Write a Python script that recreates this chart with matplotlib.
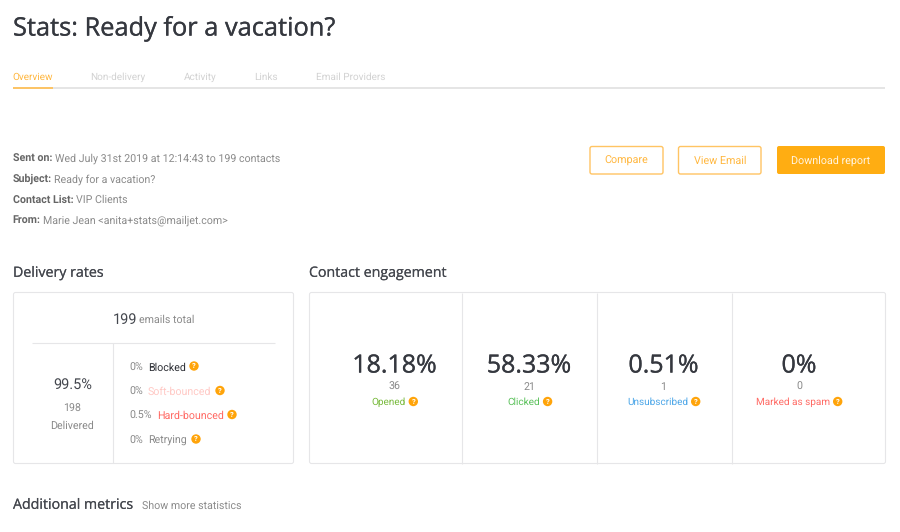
import matplotlib
matplotlib.use("Agg")
import matplotlib.pyplot as plt
import matplotlib.patheffects as pe
from matplotlib.patches import Circle, FancyBboxPatch

plt.rcParams["text.hinting"] = "no_hinting"
plt.rcParams["text.hinting_factor"] = 8

# ---- content ----
title = "Stats: Ready for a vacation?"
tabs = ["Overview", "Non-delivery", "Activity", "Links", "Email Providers"]
meta_labels = ["Sent on:", "Subject:", "Contact List:", "From:"]
meta_values = ["Wed July 31st 2019 at 12:14:43 to 199 contacts", "Ready for a vacation?",
               "VIP Clients", "Marie Jean <anita+stats@mailjet.com>"]
buttons = ["Compare", "View Email", "Download report"]
total_emails = "199"
delivered_pct = "99.5%"
delivered_count = "198"
delivery_pcts = ["0%", "0%", "0.5%", "0%"]
delivery_names = ["Blocked", "Soft-bounced", "Hard-bounced", "Retrying"]
engagement_pcts = ["18.18%", "58.33%", "0.51%", "0%"]
engagement_counts = ["36", "21", "1", "0"]
engagement_names = ["Opened", "Clicked", "Unsubscribed", "Marked as spam"]

# ---- layout (pixels) and style ----
W, H = 900, 532
ORANGE, HELP = "#ffad12", "#ffa40a"
LINE = "#e6e6e8"
DARK, GREY, MID = "#35383f", "#8a8a8a", "#666666"
SMALL = 10.6
tab_x = [12.6, 90.5, 184, 254, 316]
meta_y = [158, 178, 199, 219]
meta_vx = [55, 54, 76, 43]
btn_box = [(590, 663), (678.5, 761), (777, 885)]
row_y = [366.5, 391, 415, 439.5]
name_x = [148, 148, 157, 148]
row_help_x = [194, 220, 232, 196]
row_colors = ["#2f3137", "#ffc9c5", "#ff6a64", "#8a8a8a"]
eng_cx = [394.5, 529, 663.5, 799]
eng_label_x = [371.6, 507, 627.6, 756]
eng_help_x = [413.3, 547.6, 695.7, 837.7]
eng_colors = ["#78ba3c", "#58c058", "#4ca6e8", "#ff6a64"]
eng_div = [461.5, 597, 731.5]

fig = plt.figure(figsize=(W / 100, H / 100), dpi=100, facecolor="white")
ax = fig.add_axes([0, 0, 1, 1])
ax.set_xlim(0, W)
ax.set_ylim(H, 0)
ax.axis("off")


def T(x, y, s, px, color=GREY, fam="Roboto", weight="normal", ha="left", stroke=0):
    t = ax.text(x, y, s, fontsize=px * 0.72, color=color, family=fam,
                weight=weight, ha=ha, va="center_baseline")
    if stroke:
        t.set_path_effects([pe.withStroke(linewidth=stroke, foreground=color)])
    return t


def rect(x0, y0, x1, y1, ec=LINE, fc="none", lw=0.8, z=1):
    ax.add_patch(FancyBboxPatch((x0, y0), x1 - x0, y1 - y0, boxstyle="round,pad=0,rounding_size=2",
                                ec=ec, fc=fc, lw=lw, zorder=z))


def hline(x0, x1, y, color=LINE, lw=0.8):
    ax.plot([x0, x1], [y, y], color=color, lw=lw, solid_capstyle="butt")


def vline(x, y0, y1, color=LINE, lw=0.8):
    ax.plot([x, x], [y0, y1], color=color, lw=lw, solid_capstyle="butt")


def helpicon(x, y):
    ax.add_patch(Circle((x, y), 4.7, fc=HELP, ec="none", zorder=3))
    ax.text(x, y + 0.2, "?", fontsize=5.4, color="white", weight="bold", family="Roboto",
            ha="center", va="center", zorder=4)


# Header
T(13, 26, title, 25.4, DARK, "Open Sans", stroke=0.2)
for i, (x, s) in enumerate(zip(tab_x, tabs)):
    T(x, 76, s, 10, "#ffb73f" if i == 0 else "#d2d2d2")
hline(13, 885, 88, "#e3e3e3", 1.3)
hline(13, 53, 88, "#ffc15a", 1.3)

# Meta
for y, vx, lab, val in zip(meta_y, meta_vx, meta_labels, meta_values):
    T(12.6, y, lab, SMALL, MID, weight="bold")
    T(vx, y, val, SMALL, GREY)

# Buttons
for i, ((x0, x1), s) in enumerate(zip(btn_box, buttons)):
    cx = (x0 + x1) / 2
    if i == 2:
        rect(x0, 146, x1, 174, ec="none", fc=ORANGE)
        T(cx, 160, s, 10.8, "#fff4e0", ha="center")
    else:
        rect(x0, 146.5, x1, 174, ec="#ffc463", lw=1.0)
        T(cx, 160, s, 10.8, "#ffb73f", ha="center")

# Delivery rates
T(13, 271.5, "Delivery rates", 14.2, "#44474e", "Open Sans", stroke=0.1)
rect(13.5, 292.5, 293.5, 463.5)
T(113, 318, total_emails, 14.5, "#44474e")
T(139, 318.5, "emails total", SMALL, GREY)
hline(32, 275, 342.5)
vline(113, 342.5, 463)
T(72.5, 383, delivered_pct, 14.5, "#44474e", ha="center")
T(72.5, 407.5, delivered_count, SMALL, GREY, ha="center")
T(72.5, 425, "Delivered", SMALL, GREY, ha="center")
for y, pct, name, nx, hx, c in zip(row_y, delivery_pcts, delivery_names, name_x, row_help_x, row_colors):
    T(129, y, pct, SMALL, GREY)
    T(nx, y, name, SMALL, c)
    helpicon(hx, y - 0.5)

# Contact engagement
T(309, 271.5, "Contact engagement", 14.2, "#44474e", "Open Sans", stroke=0.1)
rect(309.5, 292.5, 885.5, 463.5)
for x in eng_div:
    vline(x, 292.5, 463.5)
for cx, lx, hx, pct, cnt, name, c in zip(eng_cx, eng_label_x, eng_help_x, engagement_pcts,
                                         engagement_counts, engagement_names, eng_colors):
    T(cx, 363, pct, 25, DARK, "Open Sans", ha="center", stroke=0.2)
    T(cx, 385.5, cnt, SMALL, GREY, ha="center")
    T(lx, 401, name, 10, c)
    helpicon(hx, 401.5)

# Footer
T(13, 503.5, "Additional metrics", 14.2, "#44474e", "Open Sans", stroke=0.1)
T(142, 505, "Show more statistics", SMALL, GREY)

fig.savefig("out.png", dpi=100, facecolor="white")
